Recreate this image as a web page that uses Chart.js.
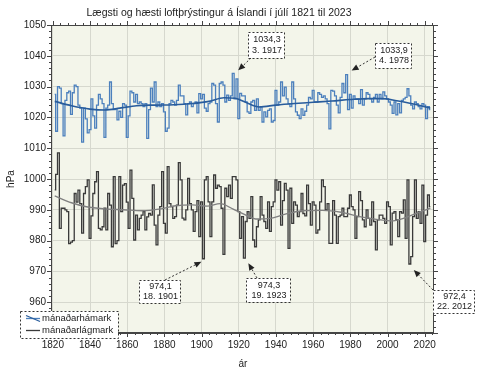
<!DOCTYPE html>
<html><head><meta charset="utf-8">
<script src="https://cdn.jsdelivr.net/npm/chart.js@4/dist/chart.umd.min.js"></script>
<style>html,body{margin:0;padding:0;background:#fff}#wrap{width:500px;height:375px}</style>
</head><body><div id="wrap"><canvas id="c" width="500" height="375"></canvas></div>
<script>
// ---------------- data ----------------
const FIRST_YEAR = 1821;
const monthlyMax = [
 1027.5,1015.5,1030,1029.5,1024.5,1014,1025.5,1028,1028.5,1021,
 1028,1030.5,1030,1024,1023,1012,1023,1019.5,1015,1016,
 1026,1020.5,1016.5,1024,1027.5,1026,1024.5,1013.5,1023,1024,
 1031.5,1024.5,1022.5,1022.8,1019.2,1022,1020,1024.5,1024,1013.5,
 1020.5,1028.5,1028,1025,1027.5,1024.5,1025,1024.5,1023.5,1024.5,
 1013.2,1022.5,1029.5,1025,1031.5,1023.5,1025,1023.5,1024.5,1021.8,
 1015.5,1016.5,1024.5,1025.5,1025,1024,1025.5,1030.5,1027,1027,
 1024.5,1020.8,1024.5,1025,1023.5,1024.5,1025,1021.5,1027.7,1026,
 1027.5,1023,1022,1024.5,1025,1031,1030.5,1024.5,1018.5,1031,
 1031.5,1030.5,1025,1027.2,1025.5,1027,1034.3,1026,1032.5,1019.6,
 1027.8,1027,1027,1025,1021.8,1021.3,1025,1025.5,1022.3,1026,
 1022.3,1023.5,1018.5,1021.8,1020.2,1022.3,1022.8,1018.5,1019,1028.8,
 1024,1025,1031.5,1027,1029.8,1026,1024.5,1023.5,1031.5,1026,
 1021.8,1020.7,1019.6,1022.8,1020.7,1022,1024,1026.5,1026,1028.8,
 1025,1025,1028,1027.5,1026.5,1027,1026,1024.5,1016.3,1028.8,
 1028.5,1027,1024,1021.5,1026.5,1031,1028,1033.9,1022.5,1027.5,
 1023,1027,1026,1026,1024.5,1029,1024,1026,1028,1027.5,
 1026,1025,1026.5,1027.5,1025,1027.5,1026,1028.3,1027,1026,
 1025,1024,1021.3,1025,1020.8,1024.5,1021.5,1025.5,1026,1026.5,
 1029.3,1027,1024,1022.8,1025,1024.5,1023.5,1022.8,1024.5,1024,
 1019.6,1023.5,1022.5
];
const monthlyMin = [
 996.5,1001.5,1008.5,984,990.5,990.5,990,989.4,979,979.5,
 980,995.3,992.5,996.4,992,982.4,995.3,997.5,999.7,980.7,
 988,995.3,999.1,1002.4,984,983.5,984.5,990.5,983.5,995.3,
 991.5,978,1000.8,979,980,1000.8,989.4,998,998.5,992.5,
 984,1002.9,993.7,980.2,988.3,983.5,987.2,988.3,989.4,983.5,
 987.7,988.8,988.3,998.1,985,978.6,988.3,991,1002.4,985.6,
 982.4,1004,992,991,987.2,987.8,991.5,1005.3,999.7,987.3,
 986.7,990,1000.2,992,990,983,989.4,993,981.3,992.6,
 974.1,999.7,1000.8,992.6,981.3,992.6,1001.3,997,998,997.5,
 990.5,975.5,997,994.3,998,993.7,1000.8,1000.8,999.7,989.4,
 980.7,987.8,974.3,986.2,989.4,987.2,994.3,980.2,978,984.5,
 986.7,994.3,988.3,986.2,984,992.6,983,991,992.6,999.7,
 996.4,999.1,985,993,998.6,996.4,977.5,997,985.6,992.6,
 991.5,987.8,989.4,995.3,988.8,988,998,992,985,992.6,
 991.5,982.4,983.5,992.6,999.7,997.5,990,992,979.1,979.1,
 993,988.3,979.1,987.8,988.3,990.5,987.8,987.8,990.5,994.8,
 991,990,980.7,987.8,995.9,993,986.7,984.5,990,987.2,
 985,992.6,986.2,977,986.7,988.3,988.3,987.2,985.6,992.6,
 991,978.6,988.9,989.4,986.7,981.3,989.4,988.9,993.2,980.7,
 999.7,972.4,974.8,987.8,999.7,987.2,989.4,985.6,998,979.7,
 988.3,994.8,991
];
const maxTrendYears  = [1821,1830,1840,1848,1856,1865,1875,1885,1895,1904,1912,1918,1924,1931,1940,1950,1960,1970,1980,1990,1997,2005,2012,2018,2023];
const maxTrendValues = [1025.2,1023.8,1022.7,1022.4,1023.0,1023.8,1024.0,1024.1,1024.5,1025.2,1026.4,1026.2,1024.8,1023.4,1024.0,1024.5,1024.9,1025.3,1025.8,1026.1,1026.1,1025.4,1024.6,1023.8,1023.0];
const minTrendYears  = [1821,1830,1838,1848,1858,1868,1878,1886,1895,1903,1910,1917,1923,1930,1937,1945,1955,1965,1975,1985,1995,2003,2010,2017,2023];
const minTrendValues = [994.5,992.3,991.0,990.3,990.0,989.7,990.3,991.3,991.6,991.2,992.0,990.2,988.5,987.0,987.2,988.6,989.7,989.8,989.2,987.8,986.8,986.4,987.5,989.2,990.5];
const xTickValues = [1820,1840,1860,1880,1900,1920,1940,1960,1980,2000,2020];
const yTickValues = [950,960,970,980,990,1000,1010,1020,1030,1040,1050];
const seriesNames = ['mánaðarhámark','mánaðarlágmark'];
const chartTitle = 'Lægsti og hæsti loftþrýstingur á Íslandi í júlí 1821 til 2023';
const yAxisTitle = 'hPa';
const xAxisTitle = 'ár';
const extremeYears  = [1917, 1978, 1901, 1923, 2012];
const extremeSeries = ['max','max','min','min','min'];
const extremeLabels = [['1034,3','3. 1917'],['1033,9','4. 1978'],['974,1','18. 1901'],['974,3','19. 1923'],['972,4','22. 2012']];

// ---------------- build ----------------
const toPts = (arr) => arr.map((v,i)=>({x: FIRST_YEAR+i, y: v}));
const toPts2 = (xs, ys) => xs.map((x,i)=>({x, y: ys[i]}));
const valueOf = (series, year) => (series==='max'?monthlyMax:monthlyMin)[year-FIRST_YEAR];

const FONT = '"Liberation Sans", Arial, sans-serif';
const PLOT_BG = '#f3f5ea';
const BLUE = '#4c80bd', BLUE_DARK = '#285c9c', DARK = '#3a3a3a', GREY = '#808080';

// pixel layout of annotation boxes (labels only)
const boxLayout = [
  {box:[248,32,36,26], tail:[251,58], tip:[5,-3]},
  {box:[375,43,36,25], tail:[375,57], tip:[5,-4]},
  {box:[139,280,41,23], tail:[165,280], tip:[-2,3]},
  {box:[246,278,44,24], tail:[257,278], tip:[4,5]},
  {box:[433,290,41,23], tail:[433,290], tip:[4,6]}
];

function dashedRect(ctx,x,y,w,h){
  ctx.save(); ctx.setLineDash([2,2]); ctx.strokeStyle='#333'; ctx.lineWidth=1;
  ctx.strokeRect(Math.round(x)+0.5,Math.round(y)+0.5,w,h); ctx.restore();
}
function arrow(ctx,x0,y0,x1,y1){
  ctx.save(); ctx.strokeStyle='#333'; ctx.fillStyle='#222'; ctx.lineWidth=1;
  ctx.setLineDash([2,2]);
  const ang=Math.atan2(y1-y0,x1-x0), L=7, W=3;
  const bx=x1-L*Math.cos(ang), by=y1-L*Math.sin(ang);
  ctx.beginPath(); ctx.moveTo(x0,y0); ctx.lineTo(bx,by); ctx.stroke();
  ctx.setLineDash([]);
  ctx.beginPath(); ctx.moveTo(x1,y1);
  ctx.lineTo(bx+W*Math.sin(ang), by-W*Math.cos(ang));
  ctx.lineTo(bx-W*Math.sin(ang), by+W*Math.cos(ang));
  ctx.closePath(); ctx.fill(); ctx.restore();
}

const extras = {
  id:'extras',
  beforeDraw(chart){
    const {ctx, chartArea:a} = chart;
    ctx.save();
    ctx.fillStyle='#fff'; ctx.fillRect(0,0,chart.width,chart.height);
    ctx.fillStyle=PLOT_BG; ctx.fillRect(a.left,a.top,a.right-a.left,a.bottom-a.top);
    ctx.restore();
  },
  afterDraw(chart){
    const {ctx, chartArea:a, scales:{x,y}} = chart;
    ctx.save();
    // frame
    ctx.strokeStyle='#444'; ctx.lineWidth=1;
    ctx.strokeRect(a.left+0.5, a.top+0.5, a.right-a.left-1, a.bottom-a.top-1);
    // minor ticks
    ctx.beginPath();
    for(let v=950; v<=1050; v+=2){
      const py=Math.round(y.getPixelForValue(v))+0.5, big=(v%10===0);
      ctx.moveTo(a.left-(big?4:2), py); ctx.lineTo(a.left, py);
      ctx.moveTo(a.right, py); ctx.lineTo(a.right+(big?4:2), py);
    }
    for(let v=1820; v<=2024; v+=4){
      const px=Math.round(x.getPixelForValue(v))+0.5, big=(v%20===0);
      ctx.moveTo(px, a.bottom); ctx.lineTo(px, a.bottom+(big?4:2));
      ctx.moveTo(px, a.top); ctx.lineTo(px, a.top-(big?4:2));
    }
    ctx.stroke();
    // title
    ctx.fillStyle='#222'; ctx.font='10.5px '+FONT; ctx.textAlign='center'; ctx.textBaseline='middle';
    ctx.fillText(chartTitle, 219, 13);
    // axis titles
    ctx.font='10px '+FONT;
    ctx.fillText(xAxisTitle, 243, 364);
    ctx.save(); ctx.translate(11, (a.top+a.bottom)/2); ctx.rotate(-Math.PI/2);
    ctx.fillText(yAxisTitle, 0, 0); ctx.restore();
    // annotations
    extremeYears.forEach((yr,i)=>{
      const L=boxLayout[i];
      const px=x.getPixelForValue(yr), py=y.getPixelForValue(valueOf(extremeSeries[i],yr));
      arrow(ctx, L.tail[0], L.tail[1], px+L.tip[0], py+L.tip[1]);
      const [bx,by,bw,bh]=L.box;
      ctx.fillStyle='#fff'; ctx.fillRect(bx,by,bw,bh);
      dashedRect(ctx,bx,by,bw,bh);
      ctx.fillStyle='#222'; ctx.font='9px '+FONT; ctx.textAlign='center'; ctx.textBaseline='middle';
      ctx.fillText(extremeLabels[i][0], bx+bw/2+1, by+bh*0.3);
      ctx.fillText(extremeLabels[i][1], bx+bw/2+1, by+bh*0.72);
    });
    // legend
    ctx.fillStyle='#fff'; ctx.fillRect(20,311,98,27);
    dashedRect(ctx,20,311,98,27);
    ctx.lineWidth=1.3;
    ctx.strokeStyle=BLUE; ctx.beginPath(); ctx.moveTo(26,318.5); ctx.lineTo(40,318.5); ctx.stroke();
    ctx.strokeStyle=BLUE_DARK; ctx.beginPath(); ctx.moveTo(26,315.5); ctx.lineTo(40,321.5); ctx.stroke();
    ctx.strokeStyle=DARK; ctx.beginPath(); ctx.moveTo(26,330.5); ctx.lineTo(40,330.5); ctx.stroke();
    ctx.fillStyle='#222'; ctx.font='9.5px '+FONT; ctx.textAlign='left'; ctx.textBaseline='middle';
    ctx.fillText(seriesNames[0], 42, 318.5);
    ctx.fillText(seriesNames[1], 42, 330.5);
    ctx.restore();
  }
};

new Chart(document.getElementById('c'), {
  type:'line',
  data:{ datasets:[
    {label:'maxTrend', data:toPts2(maxTrendYears,maxTrendValues), borderColor:BLUE_DARK, borderWidth:1.6, pointRadius:0, cubicInterpolationMode:'monotone', fill:false},
    {label:'minTrend', data:toPts2(minTrendYears,minTrendValues), borderColor:GREY, borderWidth:1.4, pointRadius:0, cubicInterpolationMode:'monotone', fill:false},
    {label:seriesNames[0], data:toPts(monthlyMax), borderColor:BLUE, borderWidth:1.3, pointRadius:0, stepped:'middle', fill:false},
    {label:seriesNames[1], data:toPts(monthlyMin), borderColor:DARK, borderWidth:1.3, pointRadius:0, stepped:'middle', fill:false}
  ]},
  options:{
    responsive:false, animation:false, devicePixelRatio:1,
    layout:{padding:{left:0,right:66,top:25,bottom:0}},
    plugins:{legend:{display:false}, title:{display:false}, tooltip:{enabled:false}},
    scales:{
      x:{type:'linear', min:1819, max:2025,
         afterBuildTicks:(s)=>{s.ticks=xTickValues.map(v=>({value:v}));},
         afterFit:(s)=>{s.height=42;},
         grid:{color:'#d6d8ce', lineWidth:1, drawTicks:false},
         border:{display:true,color:'#444'},
         ticks:{font:{family:FONT,size:10}, color:'#222', padding:6, maxRotation:0, autoSkip:false, callback:(v)=>String(v)}},
      y:{type:'linear', min:950, max:1050,
         afterBuildTicks:(s)=>{s.ticks=yTickValues.map(v=>({value:v}));},
         afterFit:(s)=>{s.width=51;},
         grid:{color:'#d6d8ce', lineWidth:1, drawTicks:false},
         border:{display:true,color:'#444'},
         ticks:{font:{family:FONT,size:10}, color:'#222', padding:5, autoSkip:false, callback:(v)=>String(v)}}
    }
  },
  plugins:[extras]
});
</script></body></html>
